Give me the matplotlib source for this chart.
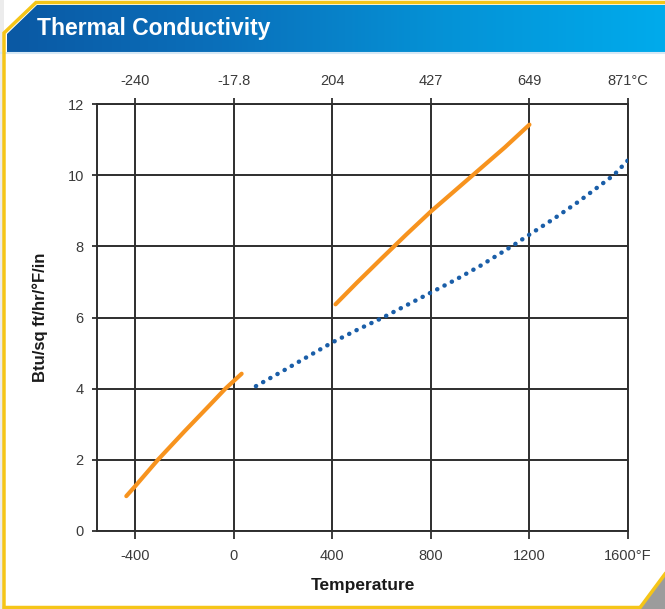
import numpy as np
import matplotlib
matplotlib.use("Agg")
import matplotlib.pyplot as plt
from matplotlib.colors import LinearSegmentedColormap
from matplotlib.patches import Polygon

# ---- data ----
orange_low_f = [-436, -400, -308, -200, -100, -34, 32]
orange_low_k = [0.98, 1.26, 2.0, 2.80, 3.52, 4.0, 4.42]

orange_high_f = [413, 500, 600, 700, 800, 900, 970, 1100, 1200]
orange_high_k = [6.37, 6.98, 7.66, 8.33, 8.98, 9.58, 10.0, 10.78, 11.42]

blue_f = [90, 200, 300, 400, 500, 600, 700, 800, 900, 1000, 1128, 1200, 1300, 1400, 1542, 1600]
blue_k = [4.07, 4.50, 4.90, 5.30, 5.65, 5.98, 6.34, 6.70, 7.06, 7.45, 8.0, 8.33, 8.78, 9.26, 10.0, 10.42]

f_ticks = [-400, 0, 400, 800, 1200, 1600]
f_labels = ['-400', '0', '400', '800', '1200', '1600°F']
c_labels = ['-240', '-17.8', '204', '427', '649', '871°C']
k_ticks = [0, 2, 4, 6, 8, 10, 12]

title = "Thermal Conductivity"
xlabel = "Temperature"
ylabel = "Btu/sq ft/hr/°F/in"

plt.rcParams['font.family'] = ['Liberation Sans', 'DejaVu Sans']

W, H = 665, 609
fig = plt.figure(figsize=(W / 100, H / 100), dpi=100)
fig.patch.set_facecolor('white')

# ---- background decoration (pixel coordinates) ----
bg = fig.add_axes([0, 0, 1, 1], zorder=-5)
bg.set_xlim(0, W)
bg.set_ylim(H, 0)
bg.axis('off')

bg.add_patch(Polygon([(0, 0), (4, 0), (4, H), (0, H)], closed=True,
                     facecolor='#ececec', edgecolor='none'))

banner = Polygon([(37, 5), (W, 5), (W, 52), (7, 52), (7, 34)], closed=True,
                 facecolor='none', edgecolor='none')
bg.add_patch(banner)
cmap = LinearSegmentedColormap.from_list('b', ['#0b58a3', '#0a70bb', '#0592d6', '#00abec'])
grad = np.linspace(0, 1, 256).reshape(1, -1)
im = bg.imshow(grad, cmap=cmap, extent=(0, W, 52, 5), aspect='auto', zorder=1)
im.set_clip_path(banner)
bg.plot([0, W], [52.5, 52.5], color='#d6e8f5', lw=1.5, zorder=2)

# yellow border
bg.plot([W, 36, 4, 4], [2.5, 2.5, 33, H], color='#f5c518', lw=2.5, zorder=3,
        solid_joinstyle='miter')
bg.plot([4, 641], [606.5, 606.5], color='#f5c518', lw=2.5, zorder=3)
bg.add_patch(Polygon([(639, H), (W, 574), (W, H)], closed=True,
                     facecolor='#9c9c9c', edgecolor='none', zorder=3))
bg.plot([639, W], [H, 574], color='#f5c518', lw=2.5, zorder=4)

bg.text(37, 28, title, color='white', fontsize=16.5, fontweight='bold',
        va='center', ha='left', zorder=5)

# ---- main chart ----
left, right, top, bottom = 97, 628, 104, 531
ax = fig.add_axes([left / W, 1 - bottom / H, (right - left) / W, (bottom - top) / H])
ax.set_facecolor('white')
ax.set_xlim(-555, 1600)
ax.set_ylim(0, 12)

gc = '#2e2e2e'
ax.set_xticks(f_ticks)
ax.set_xticklabels(f_labels)
ax.set_yticks(k_ticks)
ax.grid(True, color=gc, lw=1.4)
ax.set_axisbelow(True)
for s in ax.spines.values():
    s.set_color(gc)
    s.set_linewidth(1.4)
ax.tick_params(axis='x', direction='out', length=6, width=1.3, color=gc,
               pad=7, labelsize=10.5, labelcolor='#3a3a3a')
ax.tick_params(axis='y', direction='out', length=3.5, width=1.3, color=gc,
               pad=6, labelsize=10.5, labelcolor='#3a3a3a')

ax2 = ax.twiny()
ax2.set_xlim(ax.get_xlim())
ax2.set_xticks(f_ticks)
ax2.set_xticklabels(c_labels)
ax2.tick_params(axis='x', direction='out', length=4.5, width=1.3, color=gc,
                pad=7, labelsize=10.5, labelcolor='#3a3a3a')
for s in ax2.spines.values():
    s.set_visible(False)

ax.plot(orange_low_f, orange_low_k, color='#f7931e', lw=3.0,
        solid_capstyle='round', zorder=5)
ax.plot(orange_high_f, orange_high_k, color='#f7931e', lw=3.0,
        solid_capstyle='round', zorder=5)
ax.plot(blue_f, blue_k, color='#1a5ea8', lw=3.2, linestyle=(0, (0.05, 1.8)),
        dash_capstyle='round', zorder=5)

ax.set_xlabel(xlabel, fontsize=12.5, fontweight='bold', labelpad=11, color='#1a1a1a')
ax.set_ylabel(ylabel, fontsize=12, fontweight='bold', labelpad=14, color='#1a1a1a')

fig.savefig('out.png', dpi=100, facecolor='white')
